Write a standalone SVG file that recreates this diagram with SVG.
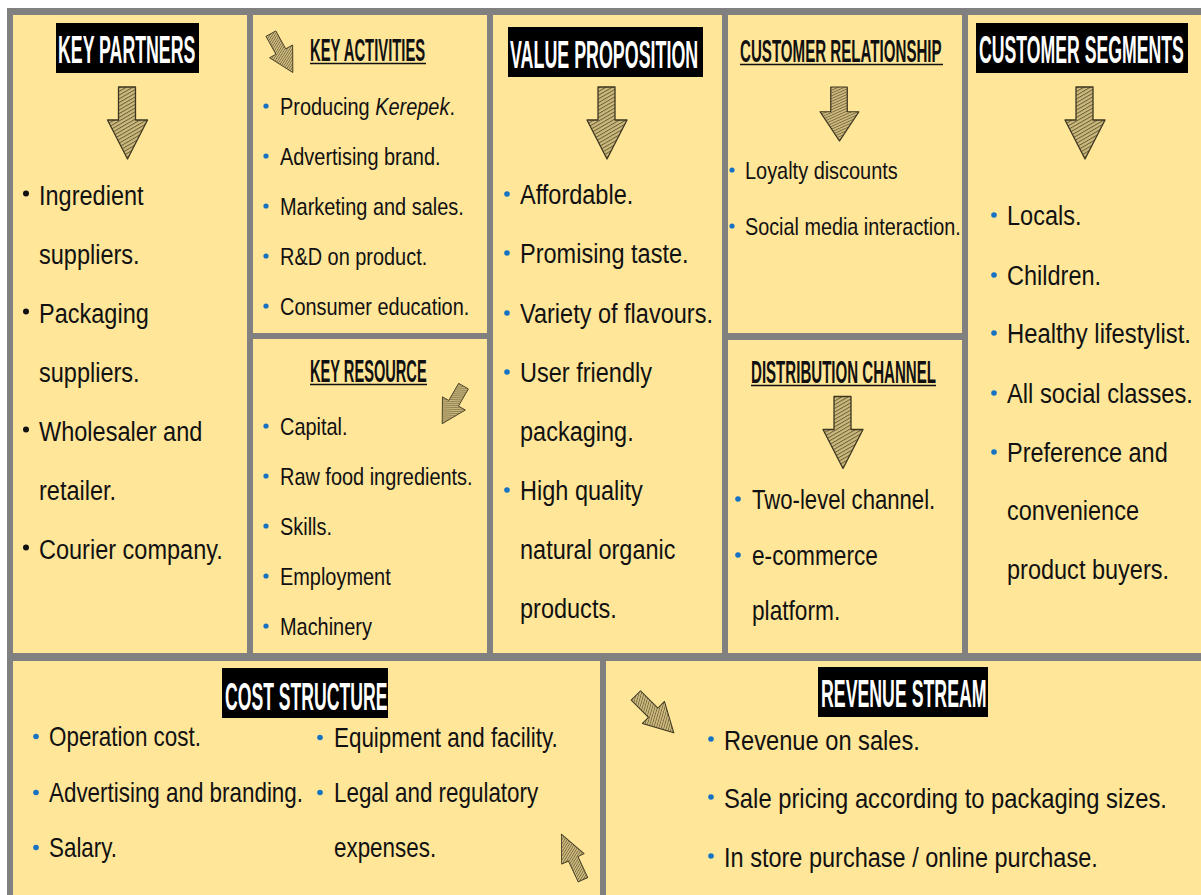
<svg xmlns="http://www.w3.org/2000/svg" xmlns:xlink="http://www.w3.org/1999/xlink" width="1201" height="895" viewBox="0 0 1201 895">
<style>
.cell{fill:#FFE699}
.t{font-family:'Liberation Sans',Arial,sans-serif;fill:#111}
.f24{font-size:24px}
.f27{font-size:27px}
.f28{font-size:28px}
.b{fill:#1673C4}
.bk{fill:#111}
.hw{font-family:'Liberation Sans',Arial,sans-serif;font-weight:bold;fill:#fff;font-size:39px}
.hb{font-family:'Liberation Sans',Arial,sans-serif;font-weight:bold;fill:#111;font-size:32px}
.ul{stroke:#111;stroke-width:1.6}
.arrow{fill:url(#hatch);stroke:#3d3620;stroke-width:1.3;stroke-linejoin:round}
</style>
<defs>
<pattern id="hatch" patternUnits="userSpaceOnUse" width="3.2" height="3.2" patternTransform="rotate(60)">
<rect width="3.2" height="3.2" fill="#cbb97e"/>
<line x1="0.5" y1="0" x2="0.5" y2="3.2" stroke="#665830" stroke-width="0.9"/>
</pattern>
<path id="arr" d="M-9,-36 L8,-36 L8,-3 L20,-3 L0,36 L-20,-3 L-9,-3 Z"/>
</defs>
<rect x="7" y="8" width="1194" height="887" fill="#808080"/>

<g id="key-partners">
<rect class="cell" x="13" y="15" width="234" height="638"/>
<rect x="56" y="23" width="143" height="50" fill="#000"/>
<text class="hw" transform="translate(58,63) scale(0.455,1)">KEY PARTNERS</text>
<use xlink:href="#arr" class="arrow" transform="translate(127.5,123)"/>
<circle class="bk" cx="26" cy="193.5" r="3"/>
<text class="t f28" transform="translate(39,205) scale(0.84,1)">Ingredient</text>
<text class="t f28" transform="translate(39,264) scale(0.84,1)">suppliers.</text>
<circle class="bk" cx="26" cy="311.5" r="3"/>
<text class="t f28" transform="translate(39,323) scale(0.84,1)">Packaging</text>
<text class="t f28" transform="translate(39,382) scale(0.84,1)">suppliers.</text>
<circle class="bk" cx="26" cy="429.5" r="3"/>
<text class="t f28" transform="translate(39,441) scale(0.84,1)">Wholesaler and</text>
<text class="t f28" transform="translate(39,500) scale(0.84,1)">retailer.</text>
<circle class="bk" cx="26" cy="547.5" r="3"/>
<text class="t f28" transform="translate(39,559) scale(0.84,1)">Courier company.</text>
</g>

<g id="key-activities">
<rect class="cell" x="253" y="15" width="234" height="318"/>
<use xlink:href="#arr" class="arrow" transform="translate(282,53) rotate(-29) scale(0.66,0.62)"/>
<text class="hb" transform="translate(310,61) scale(0.4627,1)">KEY ACTIVITIES</text>
<line class="ul" x1="310" y1="63.5" x2="426" y2="63.5"/>
<circle class="b" cx="266" cy="106" r="2.6"/>
<text class="t f24" transform="translate(280,115) scale(0.83,1)">Producing <tspan font-style="italic">Kerepek</tspan>.</text>
<circle class="b" cx="266" cy="156" r="2.6"/>
<text class="t f24" transform="translate(280,165) scale(0.83,1)">Advertising brand.</text>
<circle class="b" cx="266" cy="206" r="2.6"/>
<text class="t f24" transform="translate(280,215) scale(0.83,1)">Marketing and sales.</text>
<circle class="b" cx="266" cy="256" r="2.6"/>
<text class="t f24" transform="translate(280,265) scale(0.83,1)">R&amp;D on product.</text>
<circle class="b" cx="266" cy="306" r="2.6"/>
<text class="t f24" transform="translate(280,315) scale(0.83,1)">Consumer education.</text>
</g>

<g id="key-resource">
<rect class="cell" x="253" y="339" width="234" height="314"/>
<text class="hb" transform="translate(310,382) scale(0.457,1)">KEY RESOURCE</text>
<line class="ul" x1="310" y1="384.5" x2="427" y2="384.5"/>
<use xlink:href="#arr" class="arrow" transform="translate(453,405) rotate(30) scale(0.66,0.6)"/>
<circle class="b" cx="266" cy="426" r="2.6"/>
<text class="t f24" transform="translate(280,435) scale(0.83,1)">Capital.</text>
<circle class="b" cx="266" cy="476" r="2.6"/>
<text class="t f24" transform="translate(280,485) scale(0.83,1)">Raw food ingredients.</text>
<circle class="b" cx="266" cy="526" r="2.6"/>
<text class="t f24" transform="translate(280,535) scale(0.83,1)">Skills.</text>
<circle class="b" cx="266" cy="576" r="2.6"/>
<text class="t f24" transform="translate(280,585) scale(0.83,1)">Employment</text>
<circle class="b" cx="266" cy="626" r="2.6"/>
<text class="t f24" transform="translate(280,635) scale(0.83,1)">Machinery</text>
</g>

<g id="value-proposition">
<rect class="cell" x="493" y="15" width="229" height="638"/>
<rect x="508" y="27" width="195" height="50" fill="#000"/>
<text class="hw" transform="translate(510,68) scale(0.458,1)">VALUE PROPOSITION</text>
<use xlink:href="#arr" class="arrow" transform="translate(607,123)"/>
<circle class="b" cx="507" cy="194" r="2.8"/>
<text class="t f28" transform="translate(520,204) scale(0.84,1)">Affordable.</text>
<circle class="b" cx="507" cy="253" r="2.8"/>
<text class="t f28" transform="translate(520,263) scale(0.84,1)">Promising taste.</text>
<circle class="b" cx="507" cy="313" r="2.8"/>
<text class="t f28" transform="translate(520,323) scale(0.84,1)">Variety of flavours.</text>
<circle class="b" cx="507" cy="372" r="2.8"/>
<text class="t f28" transform="translate(520,382) scale(0.84,1)">User friendly</text>
<text class="t f28" transform="translate(520,441) scale(0.84,1)">packaging.</text>
<circle class="b" cx="507" cy="490" r="2.8"/>
<text class="t f28" transform="translate(520,500) scale(0.84,1)">High quality</text>
<text class="t f28" transform="translate(520,559) scale(0.84,1)">natural organic</text>
<text class="t f28" transform="translate(520,618) scale(0.84,1)">products.</text>
</g>

<g id="customer-relationship">
<rect class="cell" x="728" y="15" width="234" height="318"/>
<text class="hb" transform="translate(740,62) scale(0.472,1)">CUSTOMER RELATIONSHIP</text>
<line class="ul" x1="740" y1="64.5" x2="943" y2="64.5"/>
<use xlink:href="#arr" class="arrow" transform="translate(839.5,114) scale(0.97,0.75)"/>
<circle class="b" cx="732" cy="170" r="2.6"/>
<text class="t f24" transform="translate(745,179) scale(0.83,1)">Loyalty discounts</text>
<circle class="b" cx="732" cy="226" r="2.6"/>
<text class="t f24" transform="translate(745,235) scale(0.825,1)">Social media interaction.</text>
</g>

<g id="distribution-channel">
<rect class="cell" x="728" y="340" width="234" height="313"/>
<text class="hb" transform="translate(751,383) scale(0.471,1)">DISTRIBUTION CHANNEL</text>
<line class="ul" x1="751" y1="385.5" x2="936" y2="385.5"/>
<use xlink:href="#arr" class="arrow" transform="translate(843,432.5)"/>
<circle class="b" cx="738" cy="499" r="2.8"/>
<text class="t f27" transform="translate(752,509) scale(0.82,1)">Two-level channel.</text>
<circle class="b" cx="738" cy="555" r="2.8"/>
<text class="t f27" transform="translate(752,565) scale(0.84,1)">e-commerce</text>
<text class="t f27" transform="translate(752,620) scale(0.84,1)">platform.</text>
</g>

<g id="customer-segments">
<rect class="cell" x="968" y="15" width="233" height="638"/>
<rect x="976" y="23" width="212" height="50" fill="#000"/>
<text class="hw" transform="translate(979,63) scale(0.453,1)">CUSTOMER SEGMENTS</text>
<use xlink:href="#arr" class="arrow" transform="translate(1085,123)"/>
<circle class="b" cx="994" cy="215" r="2.8"/>
<text class="t f28" transform="translate(1007,225) scale(0.84,1)">Locals.</text>
<circle class="b" cx="994" cy="275" r="2.8"/>
<text class="t f28" transform="translate(1007,285) scale(0.84,1)">Children.</text>
<circle class="b" cx="994" cy="333" r="2.8"/>
<text class="t f28" transform="translate(1007,343) scale(0.851,1)">Healthy lifestylist.</text>
<circle class="b" cx="994" cy="393" r="2.8"/>
<text class="t f28" transform="translate(1007,403) scale(0.848,1)">All social classes.</text>
<circle class="b" cx="994" cy="452" r="2.8"/>
<text class="t f28" transform="translate(1007,462) scale(0.84,1)">Preference and</text>
<text class="t f28" transform="translate(1007,520) scale(0.84,1)">convenience</text>
<text class="t f28" transform="translate(1007,579) scale(0.84,1)">product buyers.</text>
</g>

<g id="cost-structure">
<rect class="cell" x="13" y="661" width="587" height="234"/>
<rect x="222" y="668" width="166" height="50" fill="#000"/>
<text class="hw" font-size="38" transform="translate(225,710) scale(0.452,1)">COST STRUCTURE</text>
<circle class="b" cx="36" cy="736.5" r="2.8"/>
<text class="t f27" transform="translate(49,746) scale(0.83,1)">Operation cost.</text>
<circle class="b" cx="36" cy="792.5" r="2.8"/>
<text class="t f27" transform="translate(49,802) scale(0.83,1)">Advertising and branding.</text>
<circle class="b" cx="36" cy="847.5" r="2.8"/>
<text class="t f27" transform="translate(49,857) scale(0.83,1)">Salary.</text>
<circle class="b" cx="320" cy="737.5" r="2.8"/>
<text class="t f27" transform="translate(334,747) scale(0.83,1)">Equipment and facility.</text>
<circle class="b" cx="320" cy="792.5" r="2.8"/>
<text class="t f27" transform="translate(334,802) scale(0.83,1)">Legal and regulatory</text>
<text class="t f27" transform="translate(334,857) scale(0.83,1)">expenses.</text>
<use xlink:href="#arr" class="arrow" transform="translate(572,857) rotate(155) scale(0.62,0.7)"/>
</g>

<g id="revenue-stream">
<rect class="cell" x="606" y="661" width="595" height="234"/>
<rect x="818" y="667" width="170" height="50" fill="#000"/>
<text class="hw" font-size="38" transform="translate(821,707) scale(0.455,1)">REVENUE STREAM</text>
<use xlink:href="#arr" class="arrow" transform="translate(655,714) rotate(-45) scale(0.78,0.74)"/>
<circle class="b" cx="711" cy="739" r="2.8"/>
<text class="t f28" transform="translate(724,750) scale(0.845,1)">Revenue on sales.</text>
<circle class="b" cx="711" cy="797" r="2.8"/>
<text class="t f28" transform="translate(724,808) scale(0.85,1)">Sale pricing according to packaging sizes.</text>
<circle class="b" cx="711" cy="856" r="2.8"/>
<text class="t f28" transform="translate(724,867) scale(0.84,1)">In store purchase / online purchase.</text>
</g>

<g id="connectors"></g>
</svg>
